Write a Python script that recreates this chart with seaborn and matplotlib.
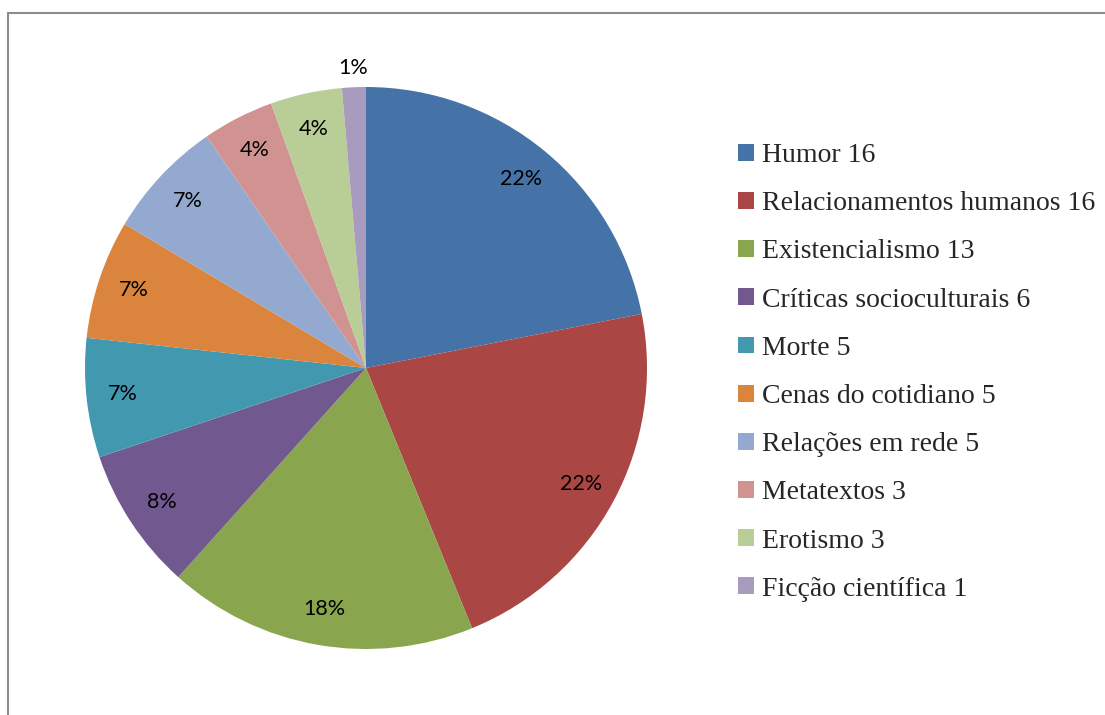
import numpy as np
import seaborn as sns
import matplotlib.pyplot as plt
from matplotlib.patches import Rectangle, Patch

categorias = ["Humor", "Relacionamentos humanos", "Existencialismo",
              "Críticas socioculturais", "Morte", "Cenas do cotidiano",
              "Relações em rede", "Metatextos", "Erotismo", "Ficção científica"]
valores = [16, 16, 13, 6, 5, 5, 5, 3, 3, 1]
cores = ["#4572A7", "#AA4643", "#89A54E", "#71588F", "#4198AF",
         "#DB843D", "#93A9CF", "#D19392", "#B9CD96", "#A99BBD"]

sns.set_theme(style="white")
palette = sns.color_palette(cores)

fig = plt.figure(figsize=(11.05, 7.15), dpi=100)
ax = fig.add_axes([85 / 1105, 66 / 715, 562 / 1105, 562 / 715])

wedges, textos, pcts = ax.pie(
    valores,
    colors=palette,
    startangle=90,
    counterclock=False,
    autopct=lambda p: f"{p:.0f}%",
    pctdistance=0.87,
    radius=1,
    wedgeprops=dict(linewidth=0),
    textprops=dict(fontsize=15.5, family=["Lato", "DejaVu Sans"], color="black"),
)
ax.set_xlim(-1, 1)
ax.set_ylim(-1, 1)
ax.set_aspect("equal")

# o rótulo da fatia pequena fica fora da pizza
w = wedges[-1]
ang = np.deg2rad((w.theta1 + w.theta2) / 2)
pcts[-1].set_position((1.07 * np.cos(ang), 1.07 * np.sin(ang)))

handles = [Patch(facecolor=c, edgecolor="none") for c in cores]
labels = [f"{c} {v}" for c, v in zip(categorias, valores)]
fig.legend(
    handles, labels,
    loc="upper left",
    bbox_to_anchor=(713 / 1105, 1 - 118 / 715),
    frameon=False,
    prop=dict(family="Liberation Serif", size=20),
    handlelength=0.56, handleheight=0.56, handletextpad=0.3,
    labelspacing=0.835,
)

# moldura cinza (cortada à direita e embaixo)
fig.patches.append(Rectangle((7.5 / 1105, -0.1), 1.2, (715 - 13.5) / 715 + 0.1,
                             transform=fig.transFigure, fill=False,
                             edgecolor="#8c8c8c", linewidth=1.5))

fig.savefig("out.png", dpi=100)
